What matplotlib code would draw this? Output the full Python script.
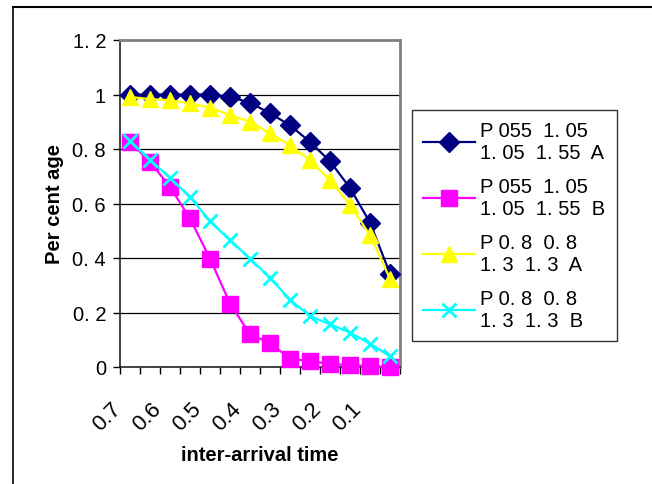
import matplotlib
matplotlib.use("Agg")
import matplotlib.pyplot as plt
from matplotlib.lines import Line2D
from matplotlib.transforms import ScaledTranslation

plt.rcParams['font.family'] = ['Liberation Sans', 'DejaVu Sans']

# categories (inter-arrival time), only every other one is labelled
categories = [0.7, 0.65, 0.6, 0.55, 0.5, 0.45, 0.4, 0.35, 0.3, 0.25, 0.2, 0.15, 0.1, 0.05]
tick_labels = ["0.7", "", "0.6", "", "0.5", "", "0.4", "", "0.3", "", "0.2", "", "0.1", ""]
y_ticks = [0, 0.2, 0.4, 0.6, 0.8, 1.0, 1.2]
y_tick_labels = ["0", "0. 2", "0. 4", "0. 6", "0. 8", "1", "1. 2"]

p055_a = [1.0, 1.0, 1.0, 1.0, 1.0, 0.991, 0.970, 0.931, 0.887, 0.826, 0.755, 0.657, 0.530, 0.343]
p055_b = [0.826, 0.753, 0.661, 0.545, 0.398, 0.233, 0.120, 0.088, 0.031, 0.021, 0.012, 0.006, 0.004, 0.0]
p08_a = [0.991, 0.983, 0.979, 0.967, 0.952, 0.924, 0.900, 0.857, 0.814, 0.759, 0.685, 0.596, 0.483, 0.324]
p08_b = [0.829, 0.761, 0.694, 0.624, 0.535, 0.465, 0.398, 0.327, 0.247, 0.187, 0.157, 0.126, 0.086, 0.039]

series = [
    ("P 055  1. 05\n1. 05  1. 55  A", p055_a, '#000080', 'D', 10),
    ("P 055  1. 05\n1. 05  1. 55  B", p055_b, '#FF00FF', 's', 11),
    ("P 0. 8  0. 8\n1. 3  1. 3  A", p08_a, '#FFFF00', '^', 11),
    ("P 0. 8  0. 8\n1. 3  1. 3  B", p08_b, '#00FFFF', 'x', 10),
]

FS = 14.5
W, H = 652, 485
fig = plt.figure(figsize=(W / 100, H / 100), dpi=100)
ax = fig.add_axes([120 / W, 1 - 368 / H, 280 / W, (368 - 41) / H])

xs = list(range(len(categories)))
handles = []
for label, vals, color, marker, ms in series:
    mew = 2 if marker == 'x' else 1
    ln, = ax.plot(xs, vals, color=color, lw=1.6, marker=marker, markersize=ms,
                  markeredgewidth=mew, markeredgecolor=color, markerfacecolor=color,
                  clip_on=False, zorder=3)
    handles.append(ln)

ax.set_xlim(-0.5, len(categories) - 0.5)
ax.set_ylim(0, 1.2)
ax.set_yticks(y_ticks)
ax.set_yticklabels(y_tick_labels, fontsize=FS)
for y in y_ticks[1:-1]:
    ax.axhline(y, color='black', lw=0.9, zorder=1)

# ticks between categories, labels at category centres
ax.set_xticks([i - 0.5 for i in range(len(categories) + 1)])
ax.set_xticklabels([])
ax.set_xticks(xs, minor=True)
ax.set_xticklabels(tick_labels, minor=True, rotation=45, ha='right',
                   rotation_mode='anchor', fontsize=16)
ax.tick_params(axis='x', which='minor', length=0, pad=22)
ax.tick_params(axis='x', which='major', direction='out', length=5, width=1)
ax.tick_params(axis='y', direction='out', length=5, width=1, pad=5)
shift = ScaledTranslation(-19 / 100, 0, fig.dpi_scale_trans)
for t in ax.get_xticklabels(minor=True):
    t.set_transform(t.get_transform() + shift)

for s in ['left', 'bottom']:
    ax.spines[s].set_color('#222222')
    ax.spines[s].set_linewidth(1.2)
for s in ['top', 'right']:
    ax.spines[s].set_color('#808080')
    ax.spines[s].set_linewidth(2)

ax.set_ylabel("Per cent age", fontsize=FS, fontweight='bold', labelpad=6)
ax.set_xlabel("inter-arrival time", fontsize=FS, fontweight='bold', labelpad=8)

leg = fig.legend(handles=handles, labels=[s[0] for s in series],
                 loc='upper left', bbox_to_anchor=(412 / W, 1 - 111 / H),
                 fontsize=FS, frameon=True, fancybox=False, edgecolor='black',
                 handlelength=2.6, handletextpad=0.25, labelspacing=0.75,
                 borderpad=0.55, borderaxespad=0)
leg.get_frame().set_linewidth(1)

# outer chart border (top and left visible)
fig.add_artist(Line2D([12.5 / W, 1], [1 - 8 / H, 1 - 8 / H], color='black', lw=1.5))
fig.add_artist(Line2D([12.5 / W, 12.5 / W], [0, 1 - 8 / H], color='black', lw=1.2))

fig.savefig("out.png", dpi=100)
